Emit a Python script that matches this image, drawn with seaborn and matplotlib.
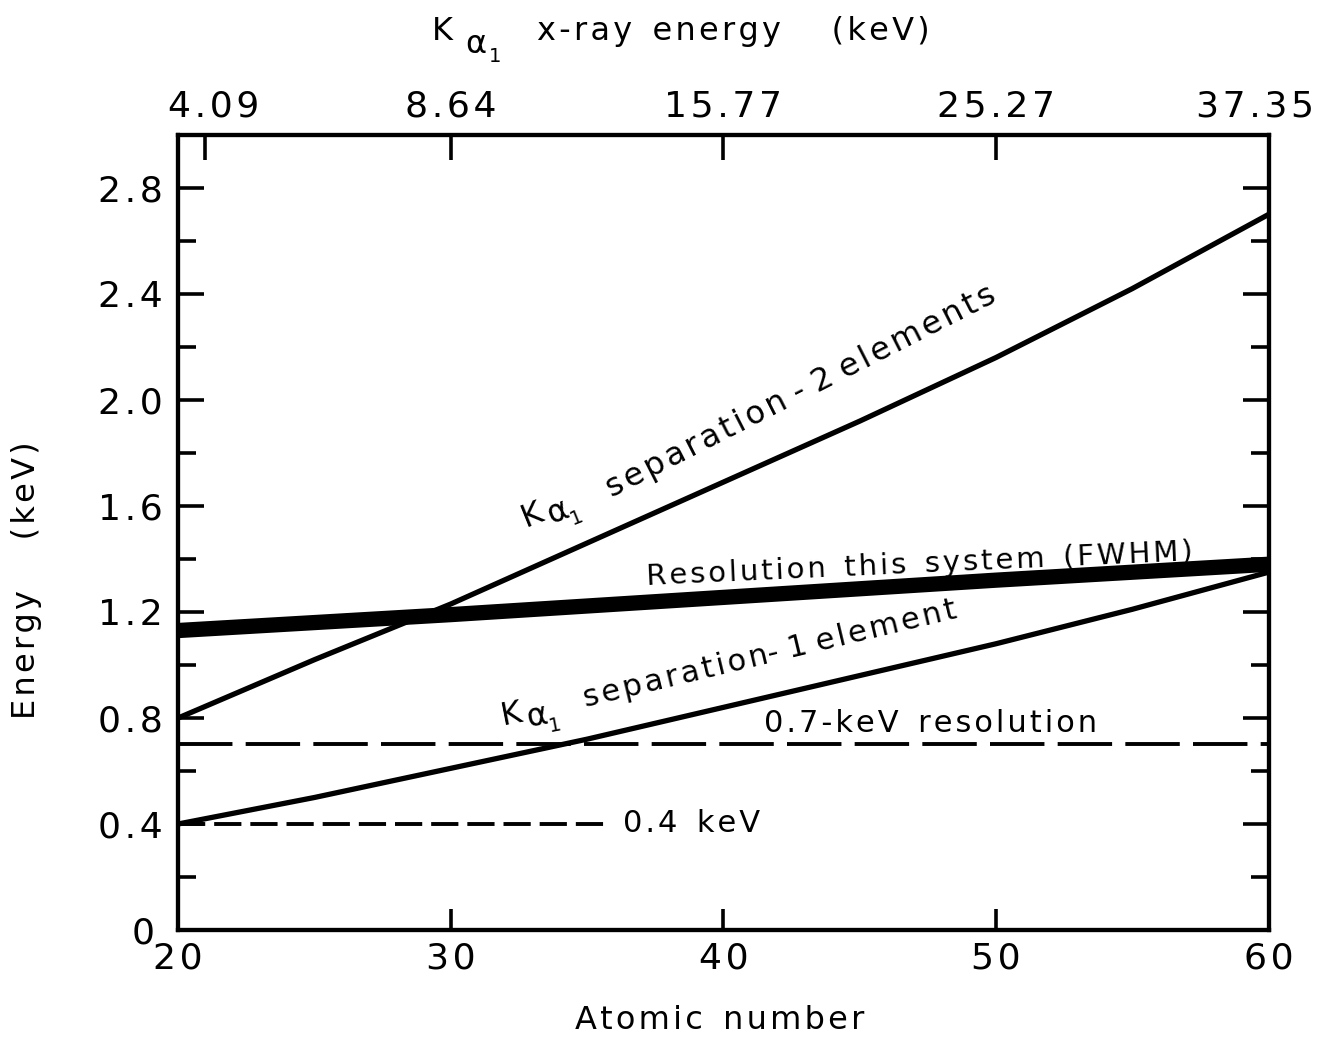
import numpy as np
import pandas as pd
import matplotlib
matplotlib.use("Agg")
import matplotlib.pyplot as plt
import matplotlib.transforms as mtransforms
import seaborn as sns

# Atomic number grid for the curves
atomic_number = [20, 25, 30, 35, 40, 45, 50, 55, 60]
# K-alpha-1 energy difference between neighbouring elements (keV)
sep_two_elements = [0.80, 1.02, 1.23, 1.46, 1.69, 1.92, 2.16, 2.42, 2.70]
sep_one_element = [0.40, 0.50, 0.61, 0.72, 0.84, 0.96, 1.08, 1.21, 1.35]
# Detector resolution (FWHM) of this system (keV)
resolution_z = [20, 30, 40, 50, 60]
resolution_fwhm = [1.13, 1.19, 1.255, 1.32, 1.38]
# Reference resolution levels (keV)
ref_07_z = [20, 60]
ref_07_e = [0.7, 0.7]
ref_04_z = [20, 35.9]
ref_04_e = [0.4, 0.4]

# Axis ticks
bottom_ticks = [20, 30, 40, 50, 60]
y_major = [0, 0.4, 0.8, 1.2, 1.6, 2.0, 2.4, 2.8]
y_major_labels = ["0", "0.4", "0.8", "1.2", "1.6", "2.0", "2.4", "2.8"]
y_minor = [0.2, 0.6, 1.0, 1.4, 1.8, 2.2, 2.6]
top_ticks_z = [21, 30, 40, 50, 60]
top_tick_labels = ["4.09", "8.64", "15.77", "25.27", "37.35"]

HAIR = "\u200a"


def spaced(s):
    """Open up the lettering a little with hair spaces."""
    return HAIR.join(s)


def k_alpha_one(ax, x, y, angle, size=22):
    """Write K-alpha-1 with the alpha dropped below the K and the 1 lower still."""
    th = np.deg2rad(angle)
    u = np.array([np.cos(th), np.sin(th)])
    n = np.array([-np.sin(th), np.cos(th)])
    pieces = [("K", 0.0, 0.0, size),
              ("α", 0.78 * size, 0.22 * size, size),
              ("1", 1.40 * size, 0.50 * size, 0.62 * size)]
    for s, along, drop, fs in pieces:
        off = along * u - drop * n
        ax.annotate(s, (x, y), xytext=tuple(off), textcoords="offset points",
                    rotation=angle, rotation_mode="anchor", ha="left",
                    va="baseline", fontsize=fs, color="black")


def nudge(label, dx_px, fig):
    """Shift a tick label sideways by a few pixels."""
    shift = mtransforms.ScaledTranslation(dx_px / fig.dpi, 0, fig.dpi_scale_trans)
    label.set_transform(label.get_transform() + shift)


sns.set_theme(style="ticks")
plt.rcParams["font.family"] = ["DejaVu Sans"]
plt.rcParams["text.color"] = "black"

fig = plt.figure(figsize=(13.2, 10.42), dpi=100)
ax = fig.add_axes([0.135, 0.1075, 0.826, 0.763])

sep2 = pd.DataFrame({"z": atomic_number, "e": sep_two_elements})
sep1 = pd.DataFrame({"z": atomic_number, "e": sep_one_element})
res = pd.DataFrame({"z": resolution_z, "e": resolution_fwhm})
r07 = pd.DataFrame({"z": ref_07_z, "e": ref_07_e})
r04 = pd.DataFrame({"z": ref_04_z, "e": ref_04_e})

sns.lineplot(data=sep2, x="z", y="e", ax=ax, color="black", linewidth=3.8)
sns.lineplot(data=sep1, x="z", y="e", ax=ax, color="black", linewidth=3.8)
sns.lineplot(data=res, x="z", y="e", ax=ax, color="black", linewidth=11,
             solid_capstyle="butt")
sns.lineplot(data=r07, x="z", y="e", ax=ax, color="black", linewidth=2.8,
             linestyle=(0, (14, 3.4)), dash_capstyle="butt")
sns.lineplot(data=r04, x="z", y="e", ax=ax, color="black", linewidth=2.8,
             linestyle=(0, (7, 2.3)), dash_capstyle="butt")

ax.set_xlim(20, 60)
ax.set_ylim(0, 3.0)

# Inward ticks on every side
ax.set_xticks(bottom_ticks)
ax.set_xticklabels([spaced(str(v)) for v in bottom_ticks])
ax.set_yticks(y_major)
ax.set_yticklabels([spaced(s) for s in y_major_labels])
ax.set_yticks(y_minor, minor=True)
ax.tick_params(axis="y", which="major", direction="in", length=19, width=2.6,
               right=True, labelsize=26, pad=11, colors="black")
ax.tick_params(axis="y", which="minor", direction="in", length=13, width=2.6,
               right=True, left=True, colors="black")
ax.tick_params(axis="x", which="major", direction="in", length=15, width=2.6,
               labelsize=26, pad=8, colors="black")
ax.tick_params(axis="x", which="minor", bottom=False)

for sp in ax.spines.values():
    sp.set_linewidth(3.0)
    sp.set_color("black")

ax.set_xlabel(spaced("Atomic") + "  " + spaced("number"), fontsize=23,
              color="black")
ax.xaxis.set_label_coords(0.497, -0.094)
ax.set_ylabel(spaced("Energy") + "     " + spaced("(keV)"), fontsize=23,
              color="black")
ax.yaxis.set_label_coords(-0.125, 0.44)

# Top axis: K-alpha-1 x-ray energy of the element at each atomic number
top = ax.twiny()
top.set_xlim(ax.get_xlim())
top.set_xticks(top_ticks_z)
top.set_xticklabels([spaced(s) for s in top_tick_labels])
top.tick_params(axis="x", direction="in", length=18, width=2.6, labelsize=26,
                pad=8, colors="black")
for sp in top.spines.values():
    sp.set_linewidth(3.0)
    sp.set_color("black")

# Keep the corner labels clear of their neighbours and the figure edge
nudge(top.xaxis.get_major_ticks()[-1].label2, -14, fig)
nudge(top.xaxis.get_major_ticks()[0].label2, 8, fig)
nudge(ax.yaxis.get_major_ticks()[0].label1, -8, fig)

# Top axis title, written in pieces so the subscripts sit low
fig.text(432 / 1320, 1 - 40 / 1042, "K", fontsize=23, va="baseline")
fig.text(465 / 1320, 1 - 53 / 1042, "α", fontsize=23, va="baseline")
fig.text(489 / 1320, 1 - 62 / 1042, "1", fontsize=14, va="baseline")
fig.text(537 / 1320, 1 - 40 / 1042,
         spaced("x-ray") + "  " + spaced("energy") + "     " + spaced("(keV)"),
         fontsize=23, va="baseline")

# Curve annotations
k_alpha_one(ax, 32.75, 1.52, 22, size=23)
ax.annotate(spaced("separation") + " - 2 " + spaced("elements"), (35.9, 1.63),
            rotation=27, rotation_mode="anchor", ha="left", va="baseline",
            fontsize=23, color="black")
ax.text(47.2, 1.377, spaced("Resolution") + "  " + spaced("this") + "  "
        + spaced("system") + "  " + spaced("(FWHM)"), fontsize=21,
        rotation=2.6, ha="center", va="center", rotation_mode="anchor",
        color="black")
k_alpha_one(ax, 31.9, 0.775, 11, size=23)
ax.annotate(spaced("separation") + "- 1 " + spaced("element"), (34.95, 0.84),
            rotation=13.5, rotation_mode="anchor", ha="left", va="baseline",
            fontsize=22, color="black")
ax.text(47.6, 0.78, spaced("0.7-keV") + "  " + spaced("resolution"),
        fontsize=22, ha="center", va="center", color="black")
ax.text(36.3, 0.40, spaced("0.4") + "  " + spaced("keV"), fontsize=22,
        ha="left", va="center", color="black")

fig.savefig("out.png", dpi=100)
